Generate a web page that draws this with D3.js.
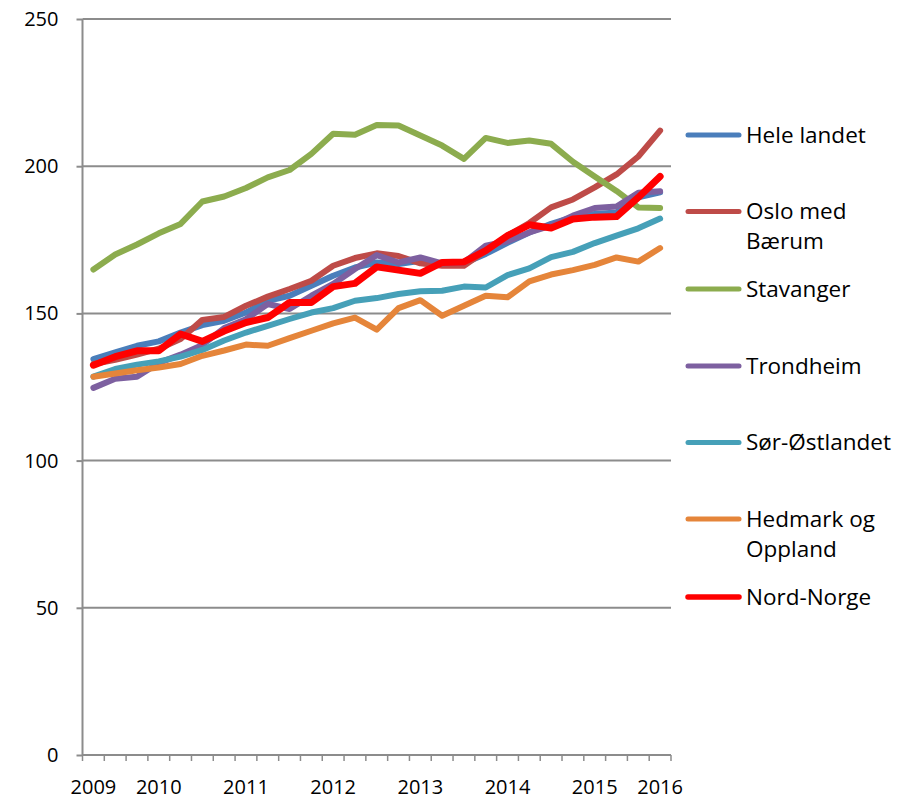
<!DOCTYPE html>
<html>
<head>
<meta charset="utf-8">
<script src="https://cdn.jsdelivr.net/npm/d3@7"></script>
<style>
    body { margin: 0; background: #fff; }
    text { font-family: "Open Sans", sans-serif; fill: #000; }
</style>
</head>
<body>
<div class="chart-wrapper"></div>
<script>
// category labels, one per quarter (only some are shown)
var xLabels = ["2009", "", "", "2010", "", "", "", "2011", "", "", "", "2012", "", "", "",
    "2013", "", "", "", "2014", "", "", "", "2015", "", "", "2016"];
var yTicks = [0, 50, 100, 150, 200, 250];

var names = ["Hele landet", "Oslo med Bærum", "Stavanger", "Trondheim",
    "Sør-Østlandet", "Hedmark og Oppland", "Nord-Norge"];
var legendLines = [["Hele landet"], ["Oslo med", "Bærum"], ["Stavanger"], ["Trondheim"],
    ["Sør-Østlandet"], ["Hedmark og", "Oppland"], ["Nord-Norge"]];
var colors = ["#4a7ebb", "#be4b48", "#8cac4e", "#7d60a0", "#46a0b8", "#e5853a", "#ff0000"];

var heleLandet = [134.5, 136.8, 139, 140.5, 143.5, 146, 147.5, 150.3, 154.3, 156, 159.4, 162.8, 165.6,
    167.3, 166.8, 167.9, 166.8, 167, 170.2, 174, 177.5, 180.4, 182.7, 183.8, 184.3, 189.4, 191.1];
var osloBaerum = [132.8, 134.2, 136, 138, 141.3, 147.8, 148.8, 152.6, 155.7, 158.3, 161.1, 166.2, 168.8,
    170.4, 169.5, 167, 166.2, 166.2, 171.3, 176.4, 180.7, 186, 188.7, 192.8, 197.2, 203.3, 212.1];
var stavanger = [164.9, 170, 173.4, 177.2, 180.4, 188, 189.7, 192.6, 196.2, 198.7, 204.2, 211, 210.7,
    214, 213.8, 210.4, 207, 202.5, 209.6, 207.9, 208.7, 207.6, 201.5, 196.5, 191.6, 186, 185.8];
var trondheim = [124.7, 127.8, 128.5, 133.2, 136, 139.3, 145, 148, 153.2, 151.5, 156, 160, 165.1,
    169.8, 167.3, 169, 167, 167.3, 173, 174.5, 177.5, 179.8, 183.2, 185.8, 186.3, 191, 191.5];
var sorOstlandet = [128.5, 131.1, 132.6, 133.7, 135.3, 137.6, 140.8, 143.5, 145.8, 148.1, 150.3, 151.8, 154.3,
    155.2, 156.6, 157.5, 157.7, 159.1, 158.8, 163, 165.3, 169.1, 170.9, 173.9, 176.4, 178.9, 182.2];
var hedmarkOppland = [128.5, 129.6, 130.7, 131.6, 132.8, 135.6, 137.4, 139.4, 139, 141.6, 144.1, 146.6, 148.6,
    144.5, 151.8, 154.5, 149.2, 152.6, 156, 155.5, 160.9, 163.2, 164.7, 166.5, 169, 167.6, 172.2];
var nordNorge = [132.4, 135.3, 137.3, 137.3, 143, 140.5, 144, 146.9, 148.6, 153.7, 153.7, 159.1, 160.2,
    165.8, 164.7, 163.6, 167.3, 167.5, 171.3, 176.4, 180.1, 179, 182.1, 182.7, 182.9, 189.4, 196.5];

var seriesValues = [heleLandet, osloBaerum, stavanger, trondheim, sorOstlandet, hedmarkOppland, nordNorge];

var margin = {left: 82.5, top: 19, right: 237, bottom: 45};
var width = 908 - margin.left - margin.right;
var height = 800 - margin.top - margin.bottom;
var axisColor = "#8c8c8c";

var svg = d3.select(".chart-wrapper").append("svg")
    .attr("width", 908)
    .attr("height", 800)
    .append("g")
    .attr("transform", "translate(" + margin.left + "," + margin.top + ")");

var x = d3.scaleBand()
    .domain(d3.range(xLabels.length))
    .range([0, width]);

var y = d3.scaleLinear()
    .domain([0, 250])
    .range([height, 0]);

// horizontal gridlines
svg.selectAll(".grid")
    .data(yTicks.filter(function (d) { return d > 0; }))
    .enter().append("line")
    .attr("class", "grid")
    .attr("x1", 0)
    .attr("x2", width)
    .attr("y1", function (d) { return y(d); })
    .attr("y2", function (d) { return y(d); })
    .attr("stroke", axisColor)
    .attr("stroke-width", 2);

var yAxis = d3.axisLeft(y)
    .tickValues(yTicks)
    .tickSize(6)
    .tickPadding(18);

var yG = svg.append("g")
    .attr("class", "y axis")
    .call(yAxis);
yG.selectAll("line, path").attr("stroke", axisColor).attr("stroke-width", 2);
yG.select("path").attr("d", "M0,0V" + height);
yG.selectAll("text").attr("font-size", 20).style("font-family", "'Open Sans', sans-serif");

// x axis: baseline + ticks between categories
var xG = svg.append("g")
    .attr("class", "x axis")
    .attr("transform", "translate(0," + height + ")");

xG.append("line")
    .attr("x1", 0).attr("x2", width)
    .attr("stroke", axisColor).attr("stroke-width", 2);

xG.selectAll(".tick-mark")
    .data(d3.range(xLabels.length + 1))
    .enter().append("line")
    .attr("class", "tick-mark")
    .attr("x1", function (d) { return d < xLabels.length ? x(d) : width; })
    .attr("x2", function (d) { return d < xLabels.length ? x(d) : width; })
    .attr("y1", 0).attr("y2", 6)
    .attr("stroke", axisColor).attr("stroke-width", 1.5);

xG.selectAll(".xlabel")
    .data(d3.range(xLabels.length).filter(function (i) { return xLabels[i] !== ""; }))
    .enter().append("text")
    .attr("class", "xlabel")
    .attr("x", function (i) { return x(i) + x.bandwidth() / 2; })
    .attr("y", 39)
    .attr("text-anchor", "middle")
    .attr("font-size", 20)
    .text(function (i) { return xLabels[i]; });

var line = d3.line()
    .x(function (d, i) { return x(i) + x.bandwidth() / 2; })
    .y(function (d) { return y(d); });

svg.selectAll(".series")
    .data(seriesValues)
    .enter().append("path")
    .attr("class", "series")
    .attr("fill", "none")
    .attr("stroke", function (d, i) { return colors[i]; })
    .attr("stroke-width", function (d, i) { return i === 6 ? 7 : 6; })
    .attr("stroke-linejoin", "round")
    .attr("stroke-linecap", "round")
    .attr("d", line);

// legend
var legendY = [135, 211.5, 289, 366, 442.5, 519, 597];
var legend = d3.select("svg").append("g").attr("class", "legend");

var items = legend.selectAll(".item")
    .data(names)
    .enter().append("g")
    .attr("class", "item")
    .attr("transform", function (d, i) { return "translate(686," + legendY[i] + ")"; });

items.append("line")
    .attr("x1", 2).attr("x2", 53)
    .attr("stroke", function (d, i) { return colors[i]; })
    .attr("stroke-width", function (d, i) { return i === 6 ? 5.5 : 5; })
    .attr("stroke-linecap", "round");

items.each(function (d, i) {
    var t = d3.select(this).append("text")
        .attr("x", 60)
        .attr("font-size", 22.5);
    legendLines[i].forEach(function (s, k) {
        t.append("tspan")
            .attr("x", 60)
            .attr("y", k * 30)
            .attr("dy", "0.35em")
            .text(s);
    });
});
</script>
</body>
</html>
